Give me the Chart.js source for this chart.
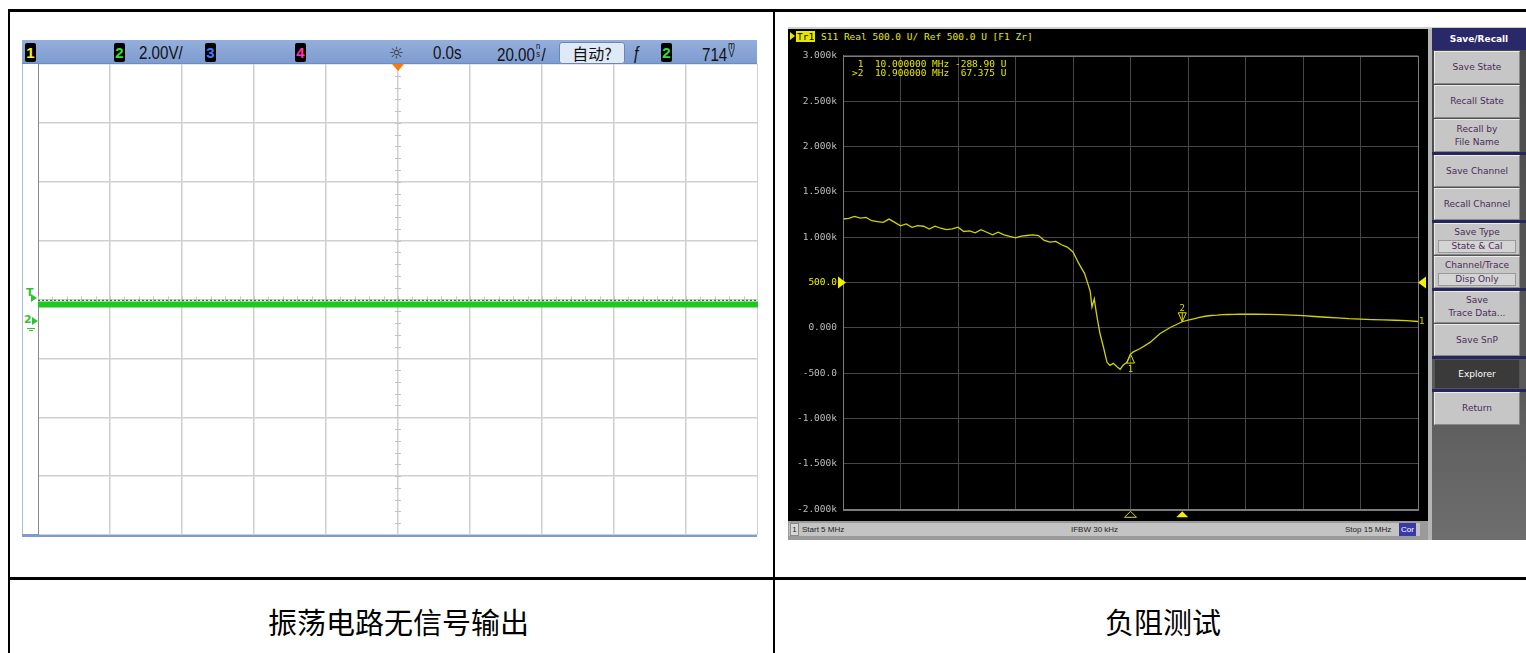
<!DOCTYPE html>
<html><head><meta charset="utf-8">
<script src="https://cdn.jsdelivr.net/npm/chart.js"></script>
<style>
body{margin:0;width:1526px;height:653px;background:#fff;position:relative;overflow:hidden;font-family:"Liberation Sans",Arial,sans-serif}
.a{position:absolute}
.ln{position:absolute;background:#000}
.chb{position:absolute;top:43px;width:11px;height:19px;background:#000;border-radius:2px;font:bold 15px "Liberation Sans";text-align:center;line-height:19px}
.ht{position:absolute;top:42px;font:18px "Liberation Sans",sans-serif;color:#111;line-height:22px;white-space:nowrap;transform:scaleX(0.84);transform-origin:0 0}
.sm{font-size:9px;display:inline-block;line-height:8px;vertical-align:4px;width:8px;text-align:center}
.btn{position:absolute;left:1434px;width:86px;background:#c6c6c6;border-top:1px solid #ececec;border-left:1px solid #ececec;border-bottom:1px solid #888;border-right:1px solid #888;box-sizing:border-box;font:9px "DejaVu Sans",sans-serif;color:#4a2c58;text-align:center;display:flex;flex-direction:column;justify-content:center;align-items:center;line-height:13px}
.box{background:#d4d4d4;border:1px solid #999;width:76px;line-height:11px;margin-top:1px}
.sep{position:absolute;left:1432px;width:94px;height:3px;background:#26265c}
.cap{position:absolute;font:29px "Noto Sans CJK SC",sans-serif;color:#000;line-height:29px;white-space:nowrap}
.vt{position:absolute;font:9.5px "DejaVu Sans Mono",monospace;color:#e6e600;white-space:pre;line-height:11px}
.st{position:absolute;top:1px;font:8px "Liberation Sans",sans-serif;color:#222;white-space:nowrap;line-height:11px}
</style></head><body>
<!-- table lines -->
<div class="ln" style="left:8px;top:9px;width:1518px;height:3px"></div>
<div class="ln" style="left:8px;top:9px;width:2px;height:644px"></div>
<div class="ln" style="left:773px;top:9px;width:2px;height:644px"></div>
<div class="ln" style="left:8px;top:577px;width:1518px;height:3px"></div>

<!-- oscilloscope frame -->
<div class="a" style="left:22px;top:40px;width:735px;height:24px;background:linear-gradient(#94afdc,#7f9cd0);border-bottom:1px solid #6f8bbd;box-sizing:border-box"></div>
<div class="chb" style="left:25px;color:#f2f22a">1</div>
<div class="chb" style="left:114px;color:#33e033">2</div>
<div class="ht" style="left:139px">2.00V/</div>
<div class="chb" style="left:205px;color:#4478ff">3</div>
<div class="chb" style="left:295px;color:#ff36a8">4</div>
<div class="ht" style="left:389px;font-family:'DejaVu Sans';font-size:17px;color:#333;transform:none">☼</div>
<div class="ht" style="left:433px">0.0s</div>
<div class="ht" style="left:497px">20.00<span class="sm">n<br>s</span>/</div>
<div class="a" style="left:559px;top:42px;width:64px;height:20px;background:#e0e9f6;border:1px solid #6a86b8;border-radius:3px;font:16px 'Noto Sans CJK SC',sans-serif;color:#111;text-align:center;line-height:20px">自动?</div>
<div class="ht" style="left:632px;font-style:italic">ƒ</div>
<div class="chb" style="left:661px;color:#33e033">2</div>
<div class="ht" style="left:702px">714<span class="sm" style="font-size:10px;width:10px">m<br>V</span></div>
<div class="a" style="left:22px;top:64px;width:1px;height:472px;background:#a8bbdd"></div>
<div class="a" style="left:22px;top:534px;width:735px;height:3px;background:#7f9cd0"></div>
<div class="a" style="left:38px;top:64px;width:720px;height:471px"><canvas id="scope"></canvas></div>
<div class="a" style="left:26px;top:286px;font:bold 11px 'DejaVu Sans';color:#2fc42f">T</div>
<div class="a" style="left:31px;top:294px;width:0;height:0;border-top:4px solid transparent;border-bottom:4px solid transparent;border-left:6px solid #2fc42f"></div>
<div class="a" style="left:24px;top:313px;font:bold 11px 'DejaVu Sans';color:#2fc42f">2</div>
<div class="a" style="left:32px;top:317px;width:0;height:0;border-top:4px solid transparent;border-bottom:4px solid transparent;border-left:6px solid #2fc42f"></div>
<div class="a" style="left:27px;top:328px;width:8px;height:1px;background:#2fc42f"></div>
<div class="a" style="left:29px;top:330px;width:4px;height:1px;background:#2fc42f"></div>

<!-- VNA -->
<div class="a" style="left:788px;top:27px;width:738px;height:2px;background:#cfcfcf"></div>
<div class="a" style="left:788px;top:29px;width:640px;height:492px;background:#000"></div>
<div class="a" style="left:1428px;top:29px;width:4px;height:511px;background:#b5b5b5"></div>
<div class="a" style="left:1432px;top:28px;width:94px;height:512px;background:linear-gradient(#4a4a4a,#5a5a5a 70%,#6e6e6e)"></div>
<div class="a" style="left:790px;top:32px;width:0;height:0;border-top:4px solid transparent;border-bottom:4px solid transparent;border-left:5px solid #e6e600"></div>
<div class="vt" style="left:796px;top:31px;background:#e6e600;color:#000;padding:0 1px">Tr1</div>
<div class="vt" id="vtitle" style="left:821px;top:31px"></div>
<div class="a" style="left:788px;top:44px;width:640px;height:477px"><canvas id="vna"></canvas></div>
<div class="a" style="left:788px;top:521px;width:640px;height:19px;background:#9a9a9a"></div>
<div class="a" style="left:789px;top:523px;width:631px;height:13px;background:#c3c3c3">
  <span class="st" style="left:1px;top:0;border:1px solid #8a8a8a;width:7px;text-align:center;background:#d8d8d8">1</span>
  <span class="st" id="sStart" style="left:13px"></span>
  <span class="st" style="left:282px">IFBW 30 kHz</span>
  <span class="st" id="sStop" style="left:556px"></span>
  <span class="st" style="left:610px;top:0;background:#3a3aa6;color:#fff;width:17px;text-align:center;line-height:13px">Cor</span>
</div>

<!-- right panel -->
<div class="a" style="left:1432px;top:28px;width:94px;height:22px;background:#29296a;color:#fff;font:bold 9px 'DejaVu Sans';text-align:center;line-height:22px">Save/Recall</div>
<div class="btn" style="top:51px;height:33px">Save State</div>
<div class="btn" style="top:85px;height:33px">Recall State</div>
<div class="btn" style="top:119px;height:33px">Recall by<br>File Name</div>
<div class="sep" style="top:152px"></div>
<div class="btn" style="top:155px;height:32px">Save Channel</div>
<div class="btn" style="top:188px;height:32px">Recall Channel</div>
<div class="sep" style="top:220px"></div>
<div class="btn" style="top:223px;height:32px">Save Type<div class="box">State &amp; Cal</div></div>
<div class="btn" style="top:256px;height:32px">Channel/Trace<div class="box">Disp Only</div></div>
<div class="sep" style="top:288px"></div>
<div class="btn" style="top:291px;height:32px">Save<br>Trace Data...</div>
<div class="btn" style="top:324px;height:32px">Save SnP</div>
<div class="sep" style="top:356px"></div>
<div class="btn" style="top:359px;height:30px;background:#3a3a3a;color:#fff;border-color:#555">Explorer</div>
<div class="sep" style="top:389px"></div>
<div class="btn" style="top:392px;height:33px">Return</div>

<!-- captions -->
<div class="cap" style="left:268px;top:607px">振荡电路无信号输出</div>
<div class="cap" style="left:1105px;top:607px">负阻测试</div>

<script>
// ---------- oscilloscope data ----------
const scopeTime = [-100,-80,-60,-40,-20,0,20,40,60,80,100];           // ns
const scopeVolt = [-0.17,-0.17,-0.17,-0.17,-0.17,-0.17,-0.17,-0.17,-0.17,-0.17,-0.17]; // V
const scopeEdge = [-0.03,-0.03,-0.03,-0.03,-0.03,-0.03,-0.03,-0.03,-0.03,-0.03,-0.03];
const scopeXRange = [-100, 100], scopeXStep = 20;
const scopeYRange = [-8, 8], scopeYStep = 2;
const scopeTrigTime = 0;

// ---------- VNA data ----------
const vnaFreq = [5.0,5.1,5.2,5.3,5.4,5.5,5.6,5.7,5.8,5.9,6.0,6.1,6.2,6.3,6.4,6.5,6.6,6.7,6.8,6.9,7.0,7.1,7.2,7.3,7.4,7.5,7.6,7.7,7.8,7.9,8.0,8.1,8.2,8.3,8.4,8.5,8.6,8.7,8.8,8.9,9.0,9.1,9.2,9.3,9.33,9.37,9.41,9.47,9.53,9.59,9.64,9.70,9.77,9.82,9.87,9.94,10.0,10.05,10.17,10.34,10.51,10.69,10.9,11.0,11.1,11.2,11.3,11.4,11.5,11.6,11.7,11.8,11.9,12.0,12.2,12.4,12.6,12.8,13.0,13.2,13.4,13.6,13.8,14.0,14.2,14.4,14.6,14.8,15.0];
const vnaReal = [1200,1207,1228,1210,1217,1181,1172,1163,1199,1163,1125,1145,1109,1127,1120,1090,1120,1098,1083,1090,1109,1062,1069,1047,1083,1054,1025,1054,1025,1008,993,1011,1018,1025,1018,964,946,953,916,891,837,710,601,402,230,320,149,-65,-214,-377,-413,-391,-431,-457,-413,-380,-289,-265,-228,-160,-65,4,67.375,85,100,115,128,136,140,146,147,149,150,151,150,149,146,141,134,125,117,110,101,96,91,88,84,80,70];
const markerNum = [1, 2];
const markerFreq = [10.0, 10.9];
const markerVal = [-288.90, 67.375];
const activeMarker = 2;
const vnaXRange = [5, 15], vnaXStep = 1;
const vnaYRange = [-2000, 3000], vnaYStep = 500;
const refLevel = 500;
const vnaTitle = "S11 Real 500.0 U/ Ref 500.0 U [F1 Zr]";

document.getElementById('vtitle').textContent = vnaTitle;
document.getElementById('sStart').textContent = 'Start ' + vnaXRange[0] + ' MHz';
document.getElementById('sStop').textContent = 'Stop ' + vnaXRange[1] + ' MHz';

const scopeDecor = {
  id: 'scopeDecor',
  beforeDatasetsDraw(chart) {
    const {ctx, scales: {x, y}} = chart;
    const cx = x.getPixelForValue(0), cy = y.getPixelForValue(0);
    ctx.save();
    ctx.strokeStyle = '#c4c4c4'; ctx.lineWidth = 1;
    ctx.beginPath();
    for (let t = scopeXRange[0]; t <= scopeXRange[1] + 1e-9; t += scopeXStep / 5) {
      const px = Math.round(x.getPixelForValue(t)) + 0.5;
      ctx.moveTo(px, cy - 3); ctx.lineTo(px, cy + 3);
    }
    for (let v = scopeYRange[0]; v <= scopeYRange[1] + 1e-9; v += scopeYStep / 5) {
      const py = Math.round(y.getPixelForValue(v)) + 0.5;
      ctx.moveTo(cx - 3, py); ctx.lineTo(cx + 3, py);
    }
    ctx.stroke();
    ctx.restore();
  },
  afterDraw(chart) {
    const {ctx, chartArea: a, scales: {x}} = chart;
    const px = x.getPixelForValue(scopeTrigTime);
    ctx.save();
    ctx.fillStyle = '#ff7a00';
    ctx.beginPath();
    ctx.moveTo(px - 6, a.top); ctx.lineTo(px + 6, a.top); ctx.lineTo(px, a.top + 7);
    ctx.closePath(); ctx.fill();
    ctx.restore();
  }
};

new Chart(document.getElementById('scope'), {
  type: 'line',
  data: { datasets: [
    { data: scopeTime.map((t, i) => ({x: t, y: scopeVolt[i]})), borderColor: '#1fc81f', borderWidth: 6, pointRadius: 0 },
    { data: scopeTime.map((t, i) => ({x: t, y: scopeEdge[i]})), borderColor: '#3f6e3f', borderWidth: 1.2, borderDash: [2, 2], pointRadius: 0 }
  ]},
  options: {
    animation: false, responsive: true, maintainAspectRatio: false,
    layout: { padding: 0 },
    plugins: { legend: { display: false }, tooltip: { enabled: false } },
    scales: {
      x: { type: 'linear', min: scopeXRange[0], max: scopeXRange[1], ticks: { display: false, stepSize: scopeXStep }, grid: { color: '#cfcfcf', lineWidth: 1.5, drawTicks: false }, border: { color: '#9a9a9a' } },
      y: { min: scopeYRange[0], max: scopeYRange[1], ticks: { display: false, stepSize: scopeYStep }, grid: { color: '#cfcfcf', lineWidth: 1.5, drawTicks: false }, border: { color: '#8a8a8a' } }
    }
  },
  plugins: [scopeDecor]
});

function fmtY(v) {
  if (v === 0) return '0.000';
  if (Math.abs(v) >= 1000) return (v / 1000).toFixed(3) + 'k';
  return v.toFixed(1);
}

const vnaDecor = {
  id: 'vnaDecor',
  afterDatasetsDraw(chart) {
    const {ctx, chartArea: a, scales: {x, y}} = chart;
    ctx.save();
    ctx.strokeStyle = '#7c7c7c'; ctx.lineWidth = 1;
    ctx.strokeRect(Math.round(a.left) + 0.5, Math.round(a.top) + 0.5, Math.round(a.right - a.left), Math.round(a.bottom - a.top));
    // reference level arrows
    const ry = y.getPixelForValue(refLevel);
    ctx.fillStyle = '#f0f000';
    ctx.beginPath(); ctx.moveTo(a.left - 5, ry - 6); ctx.lineTo(a.left - 5, ry + 6); ctx.lineTo(a.left + 3, ry); ctx.closePath(); ctx.fill();
    ctx.beginPath(); ctx.moveTo(a.right + 8, ry - 6); ctx.lineTo(a.right + 8, ry + 6); ctx.lineTo(a.right, ry); ctx.closePath(); ctx.fill();
    // markers
    ctx.strokeStyle = '#dcdc00'; ctx.fillStyle = '#dcdc00'; ctx.lineWidth = 1;
    ctx.font = '9px "DejaVu Sans Mono", monospace'; ctx.textAlign = 'center';
    markerFreq.forEach((f, i) => {
      const px = x.getPixelForValue(f), py = y.getPixelForValue(markerVal[i]);
      ctx.beginPath();
      if (markerNum[i] === activeMarker) {
        ctx.moveTo(px, py); ctx.lineTo(px - 4, py - 9); ctx.lineTo(px + 4, py - 9); ctx.closePath(); ctx.stroke();
        ctx.beginPath(); ctx.moveTo(px, py); ctx.lineTo(px, py - 9); ctx.stroke();
        ctx.fillText(String(markerNum[i]), px, py - 11);
      } else {
        ctx.moveTo(px, py); ctx.lineTo(px - 4, py + 9); ctx.lineTo(px + 4, py + 9); ctx.closePath(); ctx.stroke();
        ctx.fillText(String(markerNum[i]), px, py + 18);
      }
      // bottom axis markers
      const by = a.bottom + 8;
      ctx.beginPath(); ctx.moveTo(px - 6, by); ctx.lineTo(px + 6, by); ctx.lineTo(px, by - 6); ctx.closePath();
      if (markerNum[i] === activeMarker) { ctx.fillStyle = '#f0f000'; ctx.fill(); ctx.fillStyle = '#dcdc00'; }
      else ctx.stroke();
    });
    // trace number at right end
    const ly = y.getPixelForValue(vnaReal[vnaReal.length - 1]);
    ctx.textAlign = 'left'; ctx.textBaseline = 'middle';
    ctx.fillText('1', a.right + 1, ly);
    // marker readout
    ctx.textBaseline = 'alphabetic';
    ctx.font = '9.5px "DejaVu Sans Mono", monospace';
    ctx.fillStyle = '#e6e600';
    markerFreq.forEach((f, i) => {
      const pre = markerNum[i] === activeMarker ? '>' : ' ';
      const txt = pre + markerNum[i] + '  ' + f.toFixed(6) + ' MHz ' + markerVal[i].toPrecision(5).padStart(7) + ' U';
      ctx.fillText(txt, a.left + 9, a.top + 11 + i * 9.5);
    });
    ctx.restore();
  }
};

new Chart(document.getElementById('vna'), {
  type: 'line',
  data: { datasets: [
    { data: vnaFreq.map((f, i) => ({x: f, y: vnaReal[i]})), borderColor: '#d2d200', borderWidth: 1.3, pointRadius: 0, tension: 0 }
  ]},
  options: {
    animation: false, responsive: true, maintainAspectRatio: false,
    layout: { padding: { top: 8, right: 10, bottom: 10, left: 0 } },
    plugins: { legend: { display: false }, tooltip: { enabled: false } },
    scales: {
      x: { type: 'linear', min: vnaXRange[0], max: vnaXRange[1], ticks: { display: false, stepSize: vnaXStep }, grid: { color: '#464646', drawTicks: false }, border: { color: '#7c7c7c' } },
      y: { min: vnaYRange[0], max: vnaYRange[1],
           ticks: { stepSize: vnaYStep, padding: 6, callback: v => fmtY(v),
                    color: c => (c.tick && c.tick.value === refLevel) ? '#f0f000' : '#bcbcbc',
                    font: { family: 'DejaVu Sans Mono', size: 9.5 } },
           grid: { color: '#464646', drawTicks: false }, border: { color: '#7c7c7c' },
           afterFit: s => { s.width = 55; } }
    }
  },
  plugins: [vnaDecor]
});
</script>
</body></html>
